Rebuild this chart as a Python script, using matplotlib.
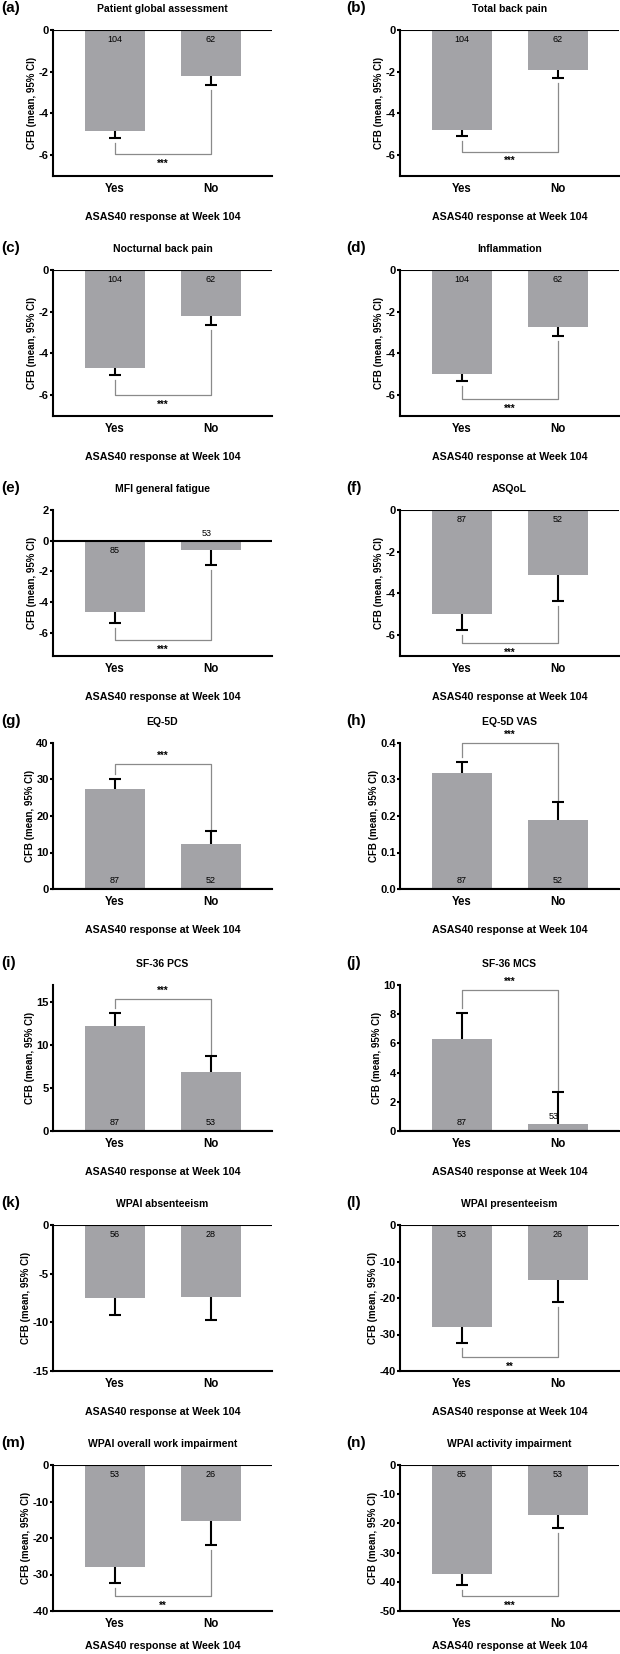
import numpy as np
import matplotlib
matplotlib.use("Agg")
import matplotlib.pyplot as plt

plt.rcParams['font.family'] = ['Liberation Sans', 'DejaVu Sans']
plt.rcParams['axes.unicode_minus'] = False

panel_labels = ['(a)', '(b)', '(c)', '(d)', '(e)', '(f)', '(g)', '(h)', '(i)', '(j)', '(k)', '(l)', '(m)', '(n)']
titles = ['Patient global assessment', 'Total back pain', 'Nocturnal back pain', 'Inflammation',
          'MFI general fatigue', 'ASQoL', 'EQ-5D', 'EQ-5D VAS', 'SF-36 PCS', 'SF-36 MCS',
          'WPAI absenteeism', 'WPAI presenteeism', 'WPAI overall work impairment', 'WPAI activity impairment']
categories = ['Yes', 'No']
yes_mean = [-4.86, -4.78, -4.68, -5.00, -4.65, -5.0, 27.4, 0.318, 12.26, 6.29, -7.52, -27.9, -27.9, -37.4]
yes_ci = [-5.19, -5.09, -5.03, -5.31, -5.37, -5.75, 30.1, 0.348, 13.75, 8.05, -9.24, -32.2, -32.4, -41.0]
no_mean = [-2.22, -1.91, -2.19, -2.74, -0.61, -3.1, 12.3, 0.188, 6.9, 0.46, -7.41, -15.0, -15.4, -17.0]
no_ci = [-2.63, -2.32, -2.65, -3.17, -1.57, -4.35, 15.9, 0.237, 8.77, 2.68, -9.76, -21.2, -21.8, -21.6]
yes_n = [104, 104, 104, 104, 85, 87, 87, 87, 87, 87, 56, 53, 53, 85]
no_n = [62, 62, 62, 62, 53, 52, 52, 52, 53, 53, 28, 26, 26, 53]
sig_marks = ['***'] * 10 + ['', '**', '**', '***']
sig_level = [-5.95, -5.83, -6.0, -6.18, -6.44, -6.4, 34.2, 0.4, 15.4, 9.66, None, -36.1, -35.9, -44.8]
y_limits = [(-7, 0)] * 4 + [(-7.5, 2), (-7, 0), (0, 40), (0, 0.4), (0, 17), (0, 10),
                            (-15, 0), (-40, 0), (-40, 0), (-50, 0)]
y_steps = [2, 2, 2, 2, 2, 2, 10, 0.1, 5, 2, 5, 10, 10, 10]
xlabel_text = 'ASAS40 response at Week 104'
ylabel_text = 'CFB (mean, 95% CI)'

W, H = 620, 1654
fig = plt.figure(figsize=(W / 100, H / 100), dpi=100)

row_tops = [30, 270, 510, 743, 985, 1225, 1465]
col_lefts = [53, 400]
ax_w, ax_h = 219, 146
bar_color = '#a3a3a7'
line_color = '#8a8a8a'
cap_half = 0.058

for i in range(14):
    r, c = divmod(i, 2)
    left = col_lefts[c]
    top = row_tops[r]
    ax = fig.add_axes([left / W, 1 - (top + ax_h) / H, ax_w / W, ax_h / H])
    ymin, ymax = y_limits[i]
    rng = ymax - ymin
    x = np.arange(2)
    means = [yes_mean[i], no_mean[i]]
    cis = [yes_ci[i], no_ci[i]]
    ns = [yes_n[i], no_n[i]]
    ax.bar(x, means, width=0.625, color=bar_color, zorder=2)
    for xi, m, ci in zip(x, means, cis):
        ax.vlines(xi, m, ci, color='black', lw=1.5, zorder=3)
        ax.hlines(ci, xi - cap_half, xi + cap_half, color='black', lw=1.5, zorder=3)
    # N labels
    for xi, m, n in zip(x, means, ns):
        if abs(m) < 0.1 * rng:
            ax.text(xi - 0.05, max(0, m) + 0.02 * rng, str(n), ha='center', va='bottom', fontsize=6.5, zorder=4)
        elif m < 0:
            ax.text(xi, -0.065 * rng, str(n), ha='center', va='center', fontsize=6.5, zorder=4)
        else:
            ax.text(xi, 0.055 * rng, str(n), ha='center', va='center', fontsize=6.5, zorder=4)
    # significance bracket
    if sig_level[i] is not None:
        lvl = sig_level[i]
        if lvl < 0:
            y0 = cis[0] - 0.035 * rng
            y1 = cis[1] - 0.035 * rng
            ax.plot([0, 0, 1, 1], [y0, lvl, lvl, y1], color=line_color, lw=0.9, zorder=1, clip_on=False)
            ax.annotate(sig_marks[i], (0.5, lvl), xytext=(0, -7), textcoords='offset points',
                        ha='center', va='center', fontsize=7, fontweight='bold')
        else:
            y0 = cis[0] + 0.035 * rng
            y1 = cis[1]
            ax.plot([0, 0, 1, 1], [y0, lvl, lvl, y1], color=line_color, lw=0.9, zorder=1, clip_on=False)
            ax.annotate(sig_marks[i], (0.5, lvl), xytext=(0, 6), textcoords='offset points',
                        ha='center', va='center', fontsize=7, fontweight='bold')
    ax.axhline(0, color='black', lw=1.5, zorder=3)
    ax.set_xlim(-0.645, 1.635)
    ax.set_ylim(ymin, ymax)
    step = y_steps[i]
    k0 = int(np.ceil(ymin / step - 1e-9))
    k1 = int(np.floor(ymax / step + 1e-9))
    ticks = np.arange(k0, k1 + 1) * step
    ax.set_yticks(ticks)
    if step < 1:
        ax.set_yticklabels([f'{t:.1f}' for t in ticks])
    else:
        ax.set_yticklabels([f'{int(round(t))}' for t in ticks])
    ax.set_xticks(x)
    ax.set_xticklabels(categories)
    for sp in ['top', 'right']:
        ax.spines[sp].set_visible(False)
    for sp in ['left', 'bottom']:
        ax.spines[sp].set_linewidth(1.5)
    ax.tick_params(axis='y', length=2.5, width=1.5, labelsize=8, pad=0.5)
    ax.tick_params(axis='x', length=0, labelsize=8.3, pad=5)
    for lab in ax.get_yticklabels() + ax.get_xticklabels():
        lab.set_fontweight('bold')
    ax.set_ylabel(ylabel_text, fontsize=7, fontweight='bold', labelpad=1)
    xpad = 12 if r < 6 else 8
    ax.set_xlabel(xlabel_text, fontsize=7.7, fontweight='bold', labelpad=xpad)
    ax.set_title(titles[i], fontsize=7.5, fontweight='bold', pad=13)
    lab_x = 1 if c == 0 else 346
    fig.text(lab_x / W, 1 - (top - 22) / H, panel_labels[i], fontsize=11, fontweight='bold',
             ha='left', va='center')

fig.savefig('out.png', dpi=100)
